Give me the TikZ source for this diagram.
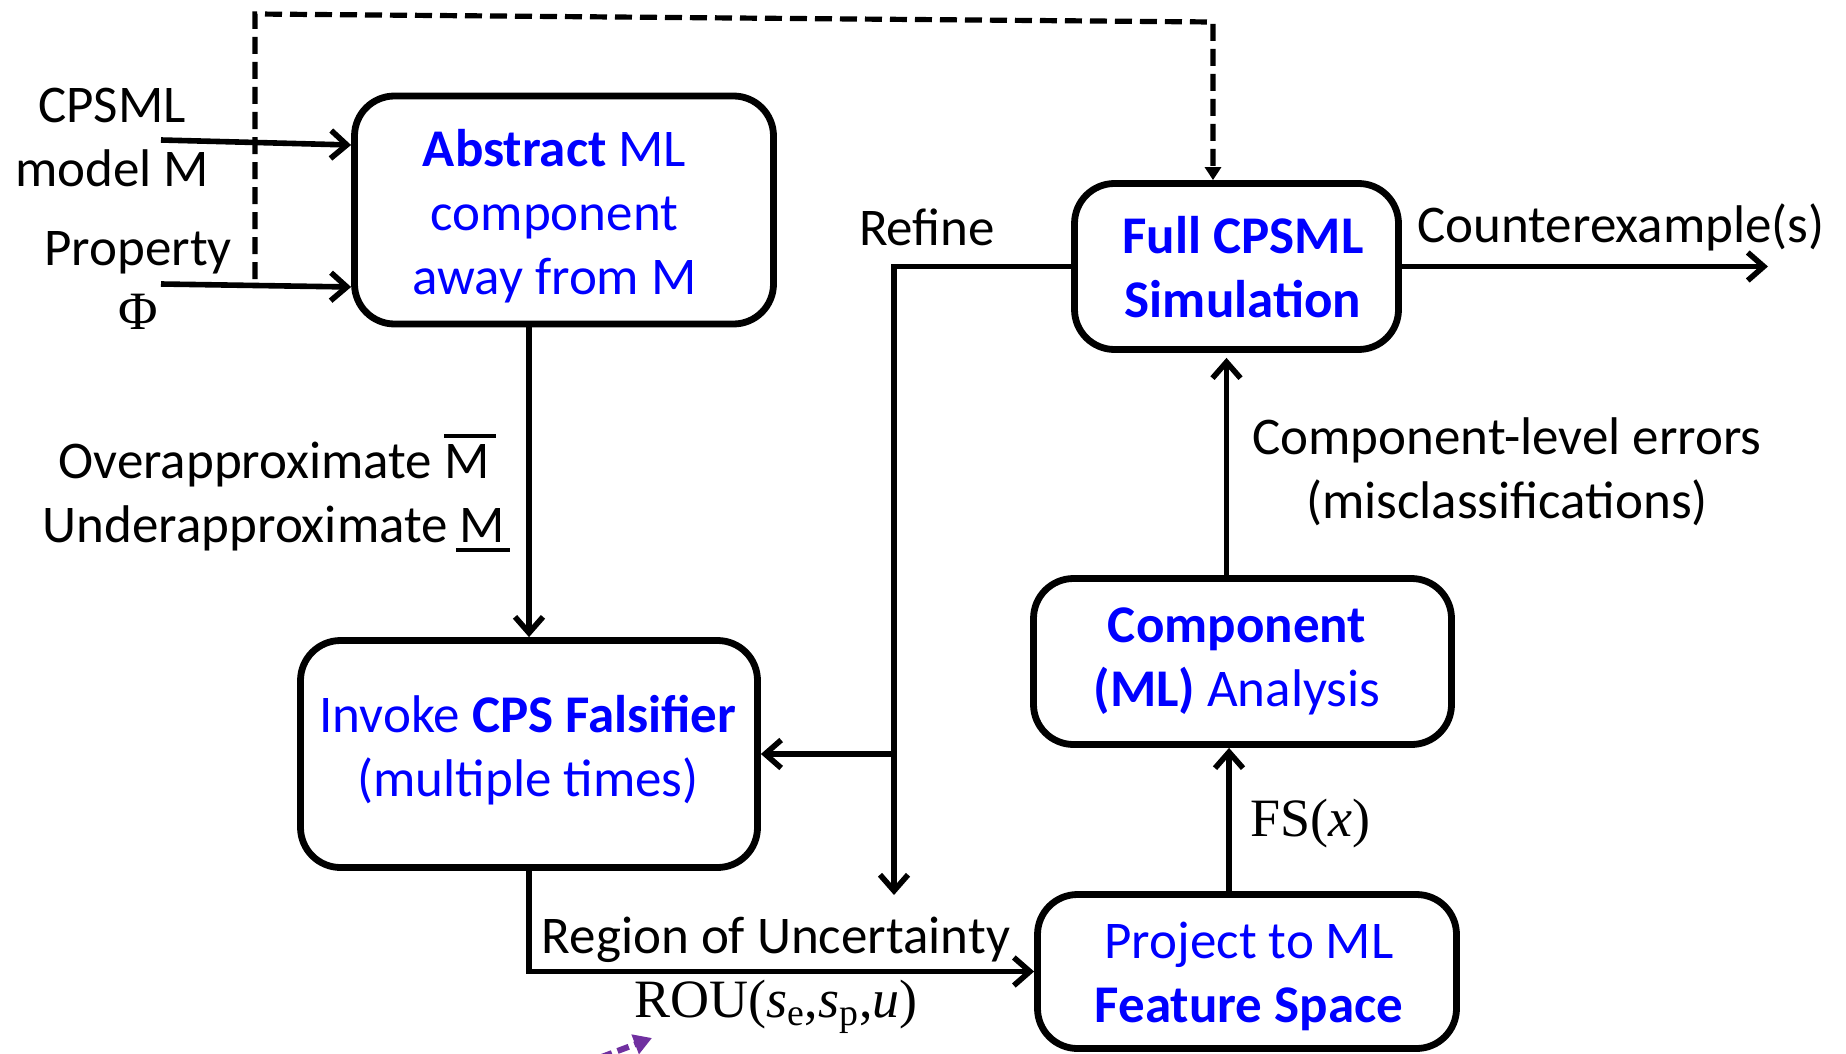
\documentclass[tikz,border=0pt]{standalone}
\usepackage{fontspec}
\setmainfont{Carlito}
\newfontfamily\tms{Liberation Serif}
\usetikzlibrary{arrows.meta}
\definecolor{boxblue}{RGB}{0,0,255}
\definecolor{arrpurple}{RGB}{112,48,160}
\newcommand\barM{\setbox0\hbox{M}\rlap{\rule[\dimexpr\ht0+3.5pt\relax]{\dimexpr\wd0+3pt\relax}{2pt}}M}
\newcommand\ubarM{\setbox0\hbox{M}\rlap{\hspace*{-2pt}\rule[-4.8pt]{\dimexpr\wd0+4.5pt\relax}{2pt}}M}
\newcommand\tmsfont{\tms\fontsize{27}{32}\selectfont}
\tikzset{
 box/.style={draw, line width=3.4pt, rounded corners=20pt, inner sep=0pt},
 boxtext/.style={align=center, text=boxblue, inner sep=0pt},
 lbl/.style={align=center, inner sep=0pt},
 arr/.style={line width=2.8pt, -{Straight Barb[length=8pt,width=14pt]}},
 darr/.style={line width=2.6pt, dash pattern=on 8.5pt off 4pt, -{Triangle[length=6.5pt,width=8pt]}},
 parr/.style={draw=arrpurple, line width=3pt, dash pattern=on 6pt off 3pt, -{Triangle[length=9pt,width=10pt,fill=arrpurple]}}
}
\begin{document}
\begin{tikzpicture}[x=0.5pt,y=-0.5pt, font=\fontsize{26.5}{32}\selectfont]
\useasboundingbox[fill=white] (0,0) rectangle (1846,1054);

% boxes
\node[box, minimum width=209.5pt, minimum height=114pt] (abs) at (564,210) {};
\node[boxtext] (abstxt) at (554.5,216) {\textbf{Abstract} ML\\component\\away from M};
\node[box, minimum width=228.5pt, minimum height=113.5pt] (invoke) at (529,754) {};
\node[boxtext] (invtxt) at (528,750) {Invoke \textbf{CPS Falsifier}\\(multiple times)};
\node[box, minimum width=162pt, minimum height=83pt] (full) at (1236.5,266.5) {};
\node[boxtext] (fulltxt) at (1243,267) {\textbf{Full CPSML}\\\textbf{Simulation}};
\node[box, minimum width=209pt, minimum height=83pt] (comp) at (1242.5,661.5) {};
\node[boxtext] (comptxt) at (1237,661) {\textbf{Component}\\\textbf{(ML)} Analysis};
\node[box, minimum width=209.5pt, minimum height=77pt] (proj) at (1247,971.5) {};
\node[boxtext] (projtxt) at (1249,976) {Project to ML\\\textbf{Feature Space}};

% left inputs
\node[lbl] (cpsml) at (112,137) {CPSML\\model M};
\node[lbl] (prop) at (138,280) {Property\\{\tmsfont Φ}};
\coordinate (inA) at (161,140);
\coordinate (inB) at (161,284);
\draw[arr] (inA) -- ([yshift=32.5pt]abs.west);
\draw[arr] (inB) -- ([yshift=-38.5pt]abs.west);

% dashed feed-forward
\coordinate (d0) at (255,279);
\coordinate (d1) at (255,14);
\coordinate (d2) at (1213,22);
\draw[darr] (d0) -- (d1) -- (d2) -- (d2 |- full.north);

% abstract -> invoke
\draw[arr] (abs.south -| invoke.north) -- (invoke.north);
\node[lbl] (approx) at (274,493) {Overapproximate \barM\\Underapproximate \ubarM};

% refine loop
\coordinate (rc) at (894,266.5);
\coordinate (rd) at (894,895);
\draw[arr] (full.west) -- (rc) -- (rd);
\draw[arr] (invoke.east -| rc) -- (invoke.east);
\node[lbl] (refine) at (927,227) {Refine};

% counterexample
\coordinate (cex) at (1768,266.5);
\draw[arr] (full.east) -- (cex);
\node[lbl] (cextext) at (1621,227) {Counterexample(s)};

% component -> full
\coordinate (c1) at ([xshift=-8pt]comp.north);
\draw[arr, shorten >=2.5pt] (c1) -- (c1 |- full.south);
\node[lbl] (errs) at (1507,472) {Component-level errors\\(misclassifications)};

% project -> component
\coordinate (p1) at ([xshift=-9pt]proj.north);
\draw[arr] (p1) -- (p1 |- comp.south);
\node[lbl, font=\tmsfont] (fs) at (1310,824) {FS(\textit{x})};

% ROU
\draw[arr] (invoke.south) |- (proj.west);
\node[lbl] (region) at (776,940) {Region of Uncertainty};
\node[lbl, font=\tmsfont] (rou) at (776,1007) {ROU(\textit{s}\textsubscript{e},\textit{s}\textsubscript{p},\textit{u})};

% purple arrow fragment
\coordinate (pu0) at (567,1070);
\coordinate (pu1) at (652,1038);
\draw[parr] (pu0) -- (pu1);
\end{tikzpicture}
\end{document}
